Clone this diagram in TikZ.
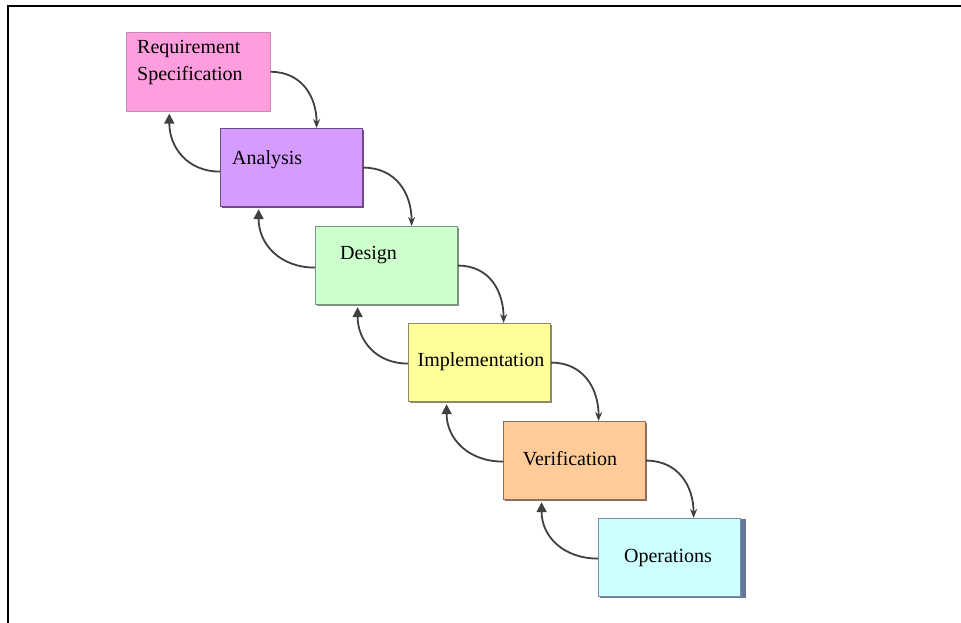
\documentclass[tikz,border=0pt]{standalone}
\usepackage{fontspec}
\setmainfont{Liberation Serif}
\usetikzlibrary{arrows.meta}

\definecolor{reqfill}{HTML}{FF9EDE}
\definecolor{reqline}{HTML}{C88AB8}
\definecolor{anafill}{HTML}{D59BFF}
\definecolor{analine}{HTML}{6B4C86}
\definecolor{desfill}{HTML}{CCFFCC}
\definecolor{desline}{HTML}{7C947C}
\definecolor{impfill}{HTML}{FFFF99}
\definecolor{impline}{HTML}{8A8A66}
\definecolor{verfill}{HTML}{FFCC99}
\definecolor{verline}{HTML}{8C6E5E}
\definecolor{opsfill}{HTML}{CCFFFF}
\definecolor{opsline}{HTML}{7C8AA6}
\definecolor{opsshade}{HTML}{66779A}
\definecolor{flow}{HTML}{404040}

\tikzset{
  phase/.style={rectangle, anchor=north west, inner sep=0pt, line width=1.2pt},
  phaseshadow/.style={rectangle, anchor=north west, inner sep=0pt},
  phasetext/.style={font=\fontsize{20}{27}\selectfont, inner sep=0pt, align=left},
  fwd/.style={draw=flow, line width=1.8pt, -{Stealth[length=9pt,width=7pt]}},
  back/.style={draw=flow, line width=1.8pt, -{Triangle[length=10pt,width=10pt]}}
}

\begin{document}
\begin{tikzpicture}[x=1pt,y=1pt]
\useasboundingbox (0,0) rectangle (961,-623);

% frame
\draw[line width=2.6pt] (8,-623) -- (8,-6) -- (961,-6);

% drop shadows
\node[phaseshadow, fill=analine, minimum width=142, minimum height=78] at (222,-130) {};
\node[phaseshadow, fill=desline, minimum width=142, minimum height=78] at (317,-228) {};
\node[phaseshadow, fill=impline, minimum width=142, minimum height=78] at (410,-325) {};
\node[phaseshadow, fill=verline, minimum width=142, minimum height=78] at (505,-423) {};
\node[phaseshadow, fill=opsshade, minimum width=146, minimum height=79] at (600,-519) {};

% phase boxes
\node[phase, fill=reqfill, draw=reqline, line width=0.6pt, minimum width=144, minimum height=79] (req) at (126,-32) {};
\node[phase, fill=anafill, draw=analine, minimum width=142, minimum height=78] (ana) at (220,-128) {};
\node[phase, fill=desfill, draw=desline, minimum width=142, minimum height=78] (des) at (315,-226) {};
\node[phase, fill=impfill, draw=impline, minimum width=142, minimum height=78] (imp) at (408,-323) {};
\node[phase, fill=verfill, draw=verline, minimum width=142, minimum height=78] (ver) at (503,-421) {};
\node[phase, fill=opsfill, draw=opsline, minimum width=142, minimum height=78] (ops) at (598,-518) {};

% labels
\node[phasetext, anchor=west] (reqtxt) at (137,-63) {Requirement\\Specification};
\node[phasetext, anchor=west] (anatxt) at (232,-160) {Analysis};
\node[phasetext, anchor=west] (destxt) at (340,-255) {Design};
\node[phasetext] (imptxt) at (481,-362) {Implementation};
\node[phasetext] (vertxt) at (570,-459) {Verification};
\node[phasetext] (opstxt) at (668,-558) {Operations};

% forward flow
\draw[fwd] (req.east) to[out=0,in=90,looseness=1.1] ([xshift=25pt]ana.north);
\draw[fwd] (ana.east) to[out=0,in=90,looseness=1.1] ([xshift=25pt]des.north);
\draw[fwd] (des.east) to[out=0,in=90,looseness=1.1] ([xshift=24pt]imp.north);
\draw[fwd] (imp.east) to[out=0,in=90,looseness=1.1] ([xshift=24pt]ver.north);
\draw[fwd] (ver.east) to[out=0,in=90,looseness=1.1] ([xshift=24pt]ops.north);

% feedback flow
\draw[back] ([yshift=-4pt]ana.west) to[out=180,in=-90,looseness=1.1] ([xshift=-29pt,yshift=-2pt]req.south);
\draw[back] ([yshift=-2pt]des.west) to[out=180,in=-90,looseness=1.1] ([xshift=-33pt,yshift=-2pt]ana.south);
\draw[back] ([yshift=-1pt]imp.west) to[out=180,in=-90,looseness=1.1] ([xshift=-29pt,yshift=-2pt]des.south);
\draw[back] ([yshift=-1pt]ver.west) to[out=180,in=-90,looseness=1.1] ([xshift=-33pt,yshift=-2pt]imp.south);
\draw[back] ([yshift=-1pt]ops.west) to[out=180,in=-90,looseness=1.1] ([xshift=-33pt,yshift=-2pt]ver.south);
\end{tikzpicture}
\end{document}
